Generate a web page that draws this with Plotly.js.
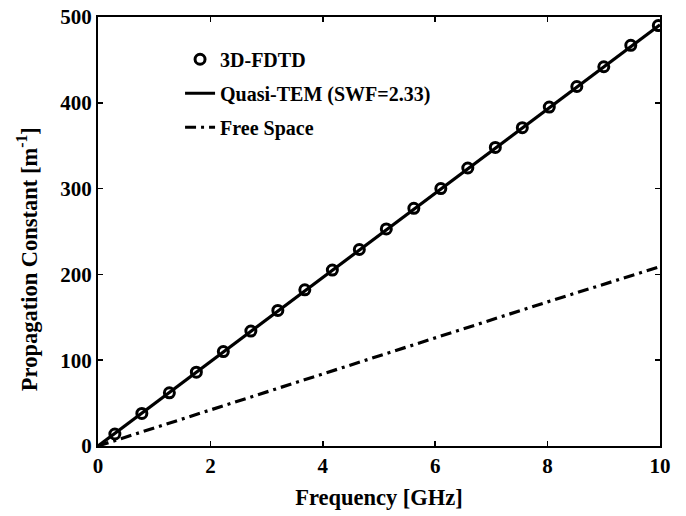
<!DOCTYPE html>
<html><head><meta charset="utf-8">
<script src="https://cdn.plot.ly/plotly-3.0.1.min.js"></script>
<style>body{margin:0;background:#fff}#c{width:686px;height:516px}</style>
</head><body><div id="c"></div>
<script>
const fdtdFreq = [0.30,0.78,1.27,1.75,2.23,2.72,3.20,3.68,4.17,4.65,5.13,5.62,6.10,6.58,7.07,7.55,8.03,8.52,9.00,9.48,9.97];
const fdtdBeta = [14,38,62,86,110,134,158,182,205,229,253,277,300,324,348,371,395,419,442,467,490];
const temFreq = [0,1,2,3,4,5,6,7,8,9,10];
const temBeta = [0,49,98,147,196,245,294,343,392,441,491];
const fsFreq = [0,2,4,6,8,10];
const fsBeta = [0,42,84,126,168,209];
const names = ['3D-FDTD','Quasi-TEM (SWF=2.33)','Free Space'];
const xTicks = [0,2,4,6,8,10];
const yTicks = [0,100,200,300,400,500];
const xTitle = 'Frequency [GHz]';
const yTitle = 'Propagation Constant [m<sup>-1</sup>]';

const fam = 'Liberation Serif, Times New Roman, serif';
const traces = [
  {x:fdtdFreq, y:fdtdBeta, name:'<b>'+names[0]+'</b>', mode:'markers', legendgroup:'a',
   marker:{symbol:'circle-open', size:10, color:'#000', line:{width:3,color:'#000'}}},
  {x:temFreq, y:temBeta, name:'<b>'+names[1]+'</b>', mode:'lines', legendgroup:'b',
   line:{color:'#000', width:3.2}},
  {x:fsFreq, y:fsBeta, name:'<b>'+names[2]+'</b>', mode:'lines', legendgroup:'c',
   line:{color:'#000', width:3.2, dash:'11px,5px,3px,5px'}}
];
const axisCommon = {showline:true, linewidth:2, linecolor:'#000', mirror:'ticks',
  ticks:'inside', ticklen:5, tickwidth:1.5, tickcolor:'#000', showgrid:false, zeroline:false,
  tickfont:{family:fam, size:21, color:'#000'}};
const layout = {
  width:686, height:516,
  margin:{l:98, r:26, t:17, b:70},
  paper_bgcolor:'#fff', plot_bgcolor:'#fff',
  showlegend:true,
  legend:{x:0.146, y:0.947, xanchor:'left', yanchor:'top', bgcolor:'rgba(0,0,0,0)',
    font:{family:fam, size:20, color:'#000'}, tracegroupgap:5, traceorder:'grouped'},
  xaxis:Object.assign({}, axisCommon, {range:[0,10], tickvals:xTicks, ticktext:xTicks.map(v=>'<b>'+v+'</b>'),
    title:{text:'<b>'+xTitle+'</b>', font:{family:fam, size:22.5, color:'#000'}, standoff:12}}),
  yaxis:Object.assign({}, axisCommon, {range:[0,500], tickvals:yTicks, ticktext:yTicks.map(v=>'<b>'+v+'</b>')}),
  annotations:[{text:'<b>'+yTitle+'</b>', xref:'paper', yref:'paper', x:-0.125, y:0.435,
    xanchor:'center', yanchor:'middle', textangle:-90, showarrow:false,
    font:{family:fam, size:22.5, color:'#000'}}]
};
Plotly.newPlot('c', traces, layout, {displayModeBar:false, staticPlot:true});
</script></body></html>
